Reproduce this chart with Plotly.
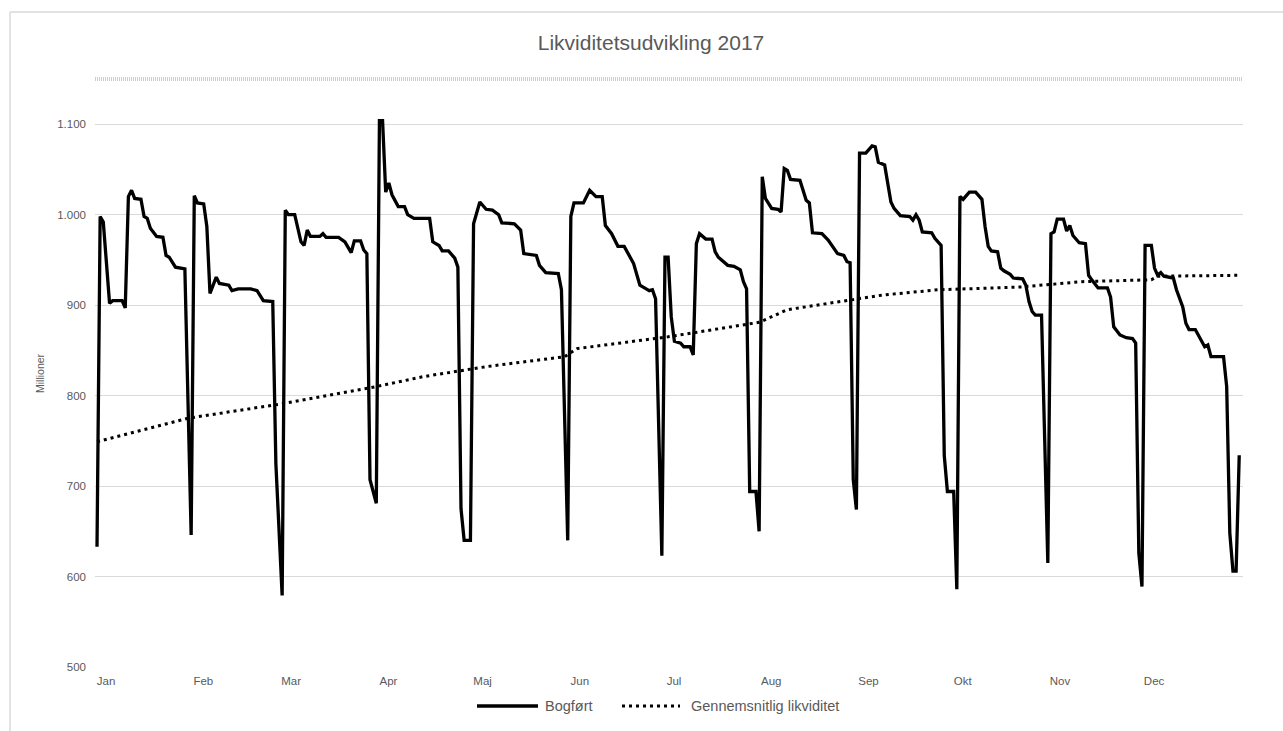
import pandas as pd
import plotly.graph_objects as go

# ---- data (day of year 2017, 0 = 1 Jan) ----
bog_dag = [0, 1, 2, 4, 5, 8, 9, 10, 11, 12, 14, 15, 16, 17, 19, 21, 22, 23, 25, 28, 30, 31,
           32, 34, 35, 36, 38, 39, 42, 43, 45, 49, 51, 53, 56, 57, 59, 60,
           61, 63, 65, 66, 67, 68, 71, 72, 73, 77, 79, 81, 82, 84, 85, 86, 87, 89, 90,
           91, 92, 93, 94, 96, 98, 99, 101, 106, 107, 109, 110, 112, 114, 115, 116, 117, 119, 120, 122,
           124, 126, 128, 129, 133, 135, 136, 140, 141, 143, 147, 148, 150, 151,
           152, 155, 156, 157, 159, 161, 162, 164, 166, 168, 171, 173, 175, 176, 177, 178, 180, 181, 182,
           183, 184, 186, 187, 189, 190, 191, 192, 194, 196, 197, 198, 201, 203, 205, 206, 207, 208, 210, 211, 212,
           213, 215, 217, 218, 219, 220, 221, 224, 226, 227, 228, 231, 233, 236, 238, 239, 240, 241, 242, 243, 245,
           247, 248, 249, 251, 253, 254, 256, 259, 260, 261, 262, 263, 266, 267, 269, 270, 271, 273, 274, 275,
           276, 278, 280, 282, 283, 284, 285, 287, 288, 289, 291, 292, 295, 296, 297, 298, 299, 301, 303, 304,
           305, 306, 308, 309, 310, 311, 313, 315, 316, 317, 319, 322, 323, 324, 326, 328, 330, 331, 332, 333, 334,
           336, 337, 338, 339, 340, 343, 344, 346, 347, 348, 350, 352, 353, 354, 355, 359, 360, 361, 362, 363, 364]
bogfoert = [633, 998, 992, 902, 905, 905, 897, 1020, 1027, 1018, 1017, 998, 996, 985, 976, 975, 955, 953, 942, 940, 646, 1021,
            1013, 1012, 987, 913, 931, 924, 922, 916, 918, 918, 916, 905, 904, 725, 579, 1005,
            1000, 1000, 970, 966, 983, 976, 976, 979, 975, 975, 970, 958, 971, 971, 961, 957, 707, 681, 1104,
            1104, 1025, 1035, 1022, 1009, 1009, 1000, 996, 996, 970, 966, 960, 960, 952, 942, 675, 640, 640, 990, 1014,
            1006, 1005, 1000, 991, 990, 983, 957, 955, 944, 936, 935, 917, 640, 998,
            1013, 1013, 1020, 1027, 1020, 1020, 988, 979, 965, 965, 946, 922, 918, 916, 917, 907, 623, 953, 953,
            887, 860, 858, 854, 854, 845, 968, 979, 973, 973, 959, 953, 944, 943, 939, 926, 918, 694, 694, 650, 1042,
            1018, 1007, 1006, 1003, 1051, 1049, 1039, 1038, 1016, 1013, 980, 979, 972, 957, 955, 948, 947, 707, 674, 1068, 1068,
            1076, 1075, 1058, 1055, 1014, 1007, 999, 998, 994, 1000, 994, 981, 980, 974, 966, 734, 694, 694, 586, 1020,
            1017, 1025, 1025, 1017, 987, 965, 960, 959, 941, 938, 934, 930, 929, 922, 904, 893, 889, 889, 615, 979,
            981, 995, 995, 982, 988, 977, 969, 968, 933, 928, 919, 919, 909, 876, 867, 864, 863, 858, 626, 589, 966,
            966, 941, 933, 936, 932, 930, 917, 898, 880, 873, 873, 861, 854, 856, 843, 843, 810, 648, 606, 606, 734]

gns_dag = [0, 29, 59, 89, 104, 124, 149, 153, 182, 211, 220, 239, 250, 268, 294, 314, 336, 338, 364]
gennemsnit = [749, 775, 791, 810, 821, 832, 843, 852, 865, 881, 895, 905, 911, 917, 920, 926, 928, 932, 933]

maaneder = ["Jan", "Feb", "Mar", "Apr", "Maj", "Jun", "Jul", "Aug", "Sep", "Okt", "Nov", "Dec"]
y_ticks = [500, 600, 700, 800, 900, 1000, 1100]

# ---- figure ----
base = pd.Timestamp("2017-01-01")
bog_x = base + pd.to_timedelta(bog_dag, unit="D")
gns_x = base + pd.to_timedelta(gns_dag, unit="D")
tick_x = [pd.Timestamp(2017, m, 1) for m in range(1, 13)]

W, H = 1283, 731
L, R, T, B = 95, 40, 79, 64
PW, PH = W - L - R, H - T - B

def px_x(px):
    return (px - L) / PW

def px_y(py):
    return (H - B - py) / PH

GRAY = "#595959"
FONT = "Liberation Sans, Arial, sans-serif"

fig = go.Figure()
fig.add_trace(go.Scatter(x=bog_x, y=bogfoert, mode="lines", name="Bogført",
                         line=dict(color="black", width=3.3), showlegend=False))
fig.add_trace(go.Scatter(x=gns_x, y=gennemsnit, mode="lines", name="Gennemsnitlig likviditet",
                         line=dict(color="black", width=3, dash="3px,4px"), showlegend=False))

shapes = [
    # chart frame (left and top edges)
    dict(type="line", xref="paper", yref="paper", x0=px_x(10), x1=px_x(10), y0=px_y(12), y1=px_y(H + 5),
         line=dict(color="#d9d9d9", width=1.5)),
    dict(type="line", xref="paper", yref="paper", x0=px_x(10), x1=px_x(W + 5), y0=px_y(12), y1=px_y(12),
         line=dict(color="#d9d9d9", width=1.5)),
    # hatched top border of plot area
    dict(type="line", xref="paper", yref="paper", x0=0, x1=1, y0=1, y1=1,
         line=dict(color="#cccccc", width=4, dash="1px,1px")),
    # legend symbols
    dict(type="line", xref="paper", yref="paper", x0=px_x(477), x1=px_x(538), y0=px_y(706), y1=px_y(706),
         line=dict(color="black", width=3.3)),
    dict(type="line", xref="paper", yref="paper", x0=px_x(622), x1=px_x(680), y0=px_y(706), y1=px_y(706),
         line=dict(color="black", width=3, dash="3px,4px")),
]

annotations = [
    dict(text="Bogført", xref="paper", yref="paper", x=px_x(543), y=px_y(706), xanchor="left", yanchor="middle",
         showarrow=False, font=dict(size=14.5, color=GRAY, family=FONT)),
    dict(text="Gennemsnitlig likviditet", xref="paper", yref="paper", x=px_x(689), y=px_y(706),
         xanchor="left", yanchor="middle", showarrow=False, font=dict(size=14.5, color=GRAY, family=FONT)),
    dict(text="Millioner", xref="paper", yref="paper", x=px_x(40), y=px_y(373), textangle=-90,
         xanchor="center", yanchor="middle", showarrow=False, font=dict(size=10.5, color=GRAY, family=FONT)),
]

fig.update_layout(
    width=W, height=H, autosize=False,
    margin=dict(l=L, r=R, t=T, b=B, pad=0),
    paper_bgcolor="white", plot_bgcolor="white",
    separators=",.",
    font=dict(family=FONT, color=GRAY),
    title=dict(text="Likviditetsudvikling 2017", x=651 / W, xref="container", xanchor="center",
               y=1 - 43 / H, yref="container", yanchor="middle",
               font=dict(size=21, color=GRAY, family=FONT)),
    xaxis=dict(range=[base - pd.Timedelta(days=0.64), base + pd.Timedelta(days=365.2)],
               tickvals=tick_x, ticktext=maaneder, ticklabelshift=9, ticklabelstandoff=5,
               showgrid=False, zeroline=False, showline=False, ticks="",
               tickfont=dict(size=11.5, color=GRAY, family=FONT)),
    yaxis=dict(range=[500, 1150], tickvals=y_ticks, tickformat=",d",
               showgrid=True, gridcolor="#d9d9d9", gridwidth=1, zeroline=False, showline=False,
               ticks="", ticklabelstandoff=8,
               tickfont=dict(size=11.5, color=GRAY, family=FONT)),
    shapes=shapes, annotations=annotations, showlegend=False,
)

fig.write_html("out.html", config={"displayModeBar": False},
               post_script="document.body.style.margin='0';document.body.style.overflow='hidden';")
